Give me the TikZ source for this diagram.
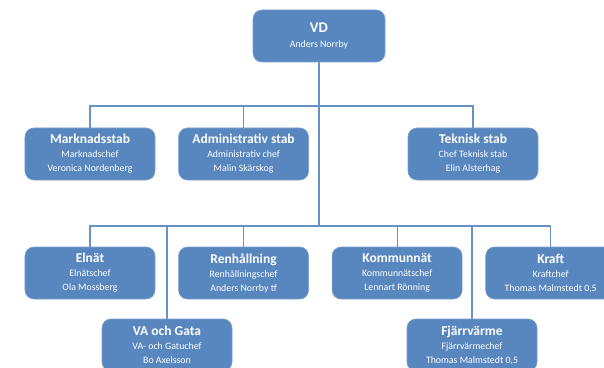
\documentclass[tikz,border=0pt]{standalone}
\usepackage{fontspec}
\setmainfont{Carlito}
\usetikzlibrary{positioning,backgrounds}

\definecolor{boxblue}{RGB}{88,135,192}
\definecolor{boxedge}{RGB}{122,160,208}
\definecolor{linkblue}{RGB}{104,146,198}
\newcommand{\rubrik}{\fontsize{9.6pt}{12pt}\selectfont\bfseries}

\begin{document}
\begin{tikzpicture}[x=0.25mm,y=-0.25mm,
	unitbox/.style={rectangle, rounded corners=2.2mm, fill=boxblue, draw=boxedge, line width=0.4pt,
		text=white, align=center, minimum width=32.5mm, minimum height=13mm, inner sep=1pt,
		font=\fontsize{7pt}{10pt}\selectfont},
	link/.style={draw=linkblue, line width=0.9pt}]
	\useasboundingbox (0,0) rectangle (604,368);
	\clip (0,0) rectangle (604,368);

	% ledning
	\node[unitbox, minimum width=33mm] (vd) at (319,36) {{\fontsize{10.5pt}{12pt}\selectfont\bfseries VD}\\Anders Norrby};

	% staber
	\node[unitbox] (mark) at (90,154) {{\rubrik Marknadsstab}\\Marknadschef\\Veronica Nordenberg};
	\node[unitbox] (adm) [right=5.75mm of mark] {{\rubrik Administrativ stab}\\Administrativ chef\\Malin Skärskog};
	\node[unitbox] (tek) at (473,154) {{\rubrik Teknisk stab}\\Chef Teknisk stab\\Elin Alsterhag};

	% verksamheter
	\node[unitbox] (elnat) at (90,273) {{\rubrik Elnät}\\Elnätschef\\Ola Mossberg};
	\node[unitbox] (ren) [right=5.75mm of elnat] {{\rubrik Renhållning}\\Renhållningschef\\Anders Norrby tf};
	\node[unitbox] (kom) [right=5.75mm of ren] {{\rubrik Kommunnät}\\Kommunnätschef\\Lennart Rönning};
	\node[unitbox] (kraft) [right=5.75mm of kom] {{\rubrik Kraft}\\Kraftchef\\Thomas Malmstedt 0,5};
	\node[unitbox] (va) at (167,345) {{\rubrik VA och Gata}\\VA- och Gatuchef\\Bo Axelsson};
	\node[unitbox] (fjv) at (472,345) {{\rubrik Fjärrvärme}\\Fjärrvärmechef\\Thomas Malmstedt 0,5};

	\coordinate (stabbus) at (319,106);
	\coordinate (linjebus) at (319,226);

	\begin{pgfonlayer}{background}
		\path[link] (vd.south) -- (vd.south |- linjebus);
		\path[link] (mark.north) |- (stabbus) -| (tek.north);
		\path[link] (adm.north) -- (adm.north |- stabbus);
		\path[link] (elnat.north) |- (linjebus) -| (kraft.north);
		\path[link] (ren.north) -- (ren.north |- linjebus);
		\path[link] (kom.north) -- (kom.north |- linjebus);
		\path[link] (va.north) -- (va.north |- linjebus);
		\path[link] (fjv.north) -- (fjv.north |- linjebus);
	\end{pgfonlayer}
\end{tikzpicture}
\end{document}
